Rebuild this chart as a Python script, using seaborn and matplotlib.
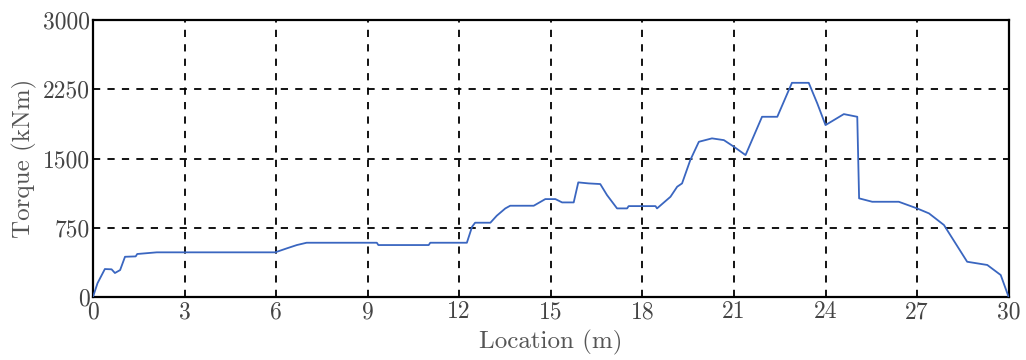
import matplotlib
matplotlib.use("Agg")
import matplotlib.pyplot as plt
import seaborn as sns
import pandas as pd

location_m = [0.0, 0.15, 0.39, 0.61, 0.72, 0.89, 1.05, 1.40, 1.45, 2.09, 5.97, 6.35, 6.68, 7.0,
              9.3, 9.35, 11.0, 11.05, 12.25, 12.42, 12.52, 13.02, 13.23, 13.51, 13.67, 14.44,
              14.82, 15.15, 15.37, 15.75, 15.9, 16.24, 16.62, 16.84, 17.17, 17.5, 17.55, 18.43,
              18.48, 18.92, 19.14, 19.3, 19.57, 19.85, 20.28, 20.67, 21.0, 21.38, 21.92, 22.42,
              22.9, 23.45, 23.73, 24.0, 24.6, 25.04, 25.1, 25.53, 26.4, 27.0, 27.39, 27.88,
              28.64, 29.3, 29.74, 30.0]
torque_knm = [0, 150, 303, 300, 260, 292, 436, 440, 466, 484, 484, 527, 563, 588,
              588, 563, 563, 588, 588, 761, 805, 805, 881, 960, 989, 989,
              1061, 1061, 1025, 1025, 1242, 1231, 1224, 1105, 960, 960, 985, 985,
              960, 1086, 1195, 1231, 1484, 1682, 1719, 1700, 1628, 1538, 1953, 1953,
              2321, 2321, 2098, 1863, 1982, 1953, 1069, 1032, 1032, 960, 906, 780,
              382, 347, 238, 0]
x_ticks = [0, 3, 6, 9, 12, 15, 18, 21, 24, 27, 30]
y_ticks = [0, 750, 1500, 2250, 3000]

sns.set_style("white")
plt.rcParams['font.family'] = ['cmr10', 'DejaVu Serif']
plt.rcParams['mathtext.fontset'] = 'cm'
plt.rcParams['axes.unicode_minus'] = False

df = pd.DataFrame({"Location (m)": location_m, "Torque (kNm)": torque_knm})

fig = plt.figure(figsize=(10.26, 3.6), dpi=100)
ax = fig.add_axes([0.0906, 0.175, 0.8925, 0.769])
sns.lineplot(data=df, x="Location (m)", y="Torque (kNm)", ax=ax,
             color="#3a66c0", linewidth=1.3, zorder=3)

ax.set_xlim(0, 30)
ax.set_ylim(0, 3000)
ax.set_xticks(x_ticks)
ax.set_xticklabels([str(t) for t in x_ticks])
ax.set_yticks(y_ticks)
ax.set_yticklabels([str(t) for t in y_ticks])
ax.grid(True, color="black", linestyle=(0, (4, 4)), linewidth=1.3, zorder=1)
for s in ax.spines.values():
    s.set_color("black")
    s.set_linewidth(1.6)
ax.tick_params(axis="both", length=0, labelsize=17, colors="#444444", pad=2)
ax.tick_params(axis="x", pad=3)
ax.set_xlabel("Location (m)", fontsize=18, color="#555555", labelpad=5)
ax.set_ylabel("Torque (kNm)", fontsize=18, color="#555555", labelpad=4)

fig.savefig("out.png", dpi=100)
